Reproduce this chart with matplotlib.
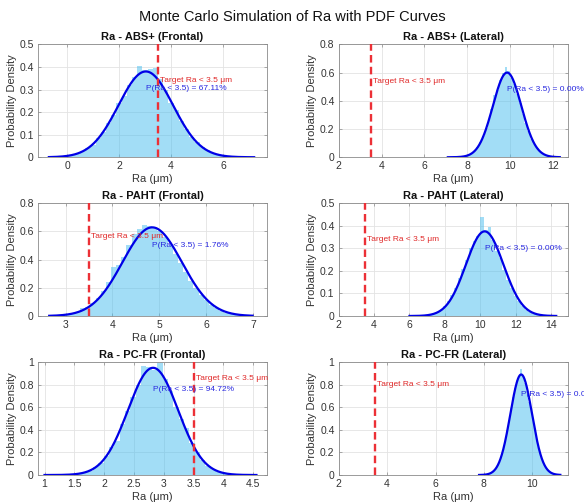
import numpy as np
import matplotlib
matplotlib.use("Agg")
import matplotlib.pyplot as plt

plt.rcParams['font.family'] = ['Liberation Sans', 'DejaVu Sans']

titles = ["Ra - ABS+ (Frontal)", "Ra - ABS+ (Lateral)",
          "Ra - PAHT (Frontal)", "Ra - PAHT (Lateral)",
          "Ra - PC-FR (Frontal)", "Ra - PC-FR (Lateral)"]
prob_labels = ["P(Ra < 3.5) = 67.11%", "P(Ra < 3.5) = 0.00%",
               "P(Ra < 3.5) = 1.76%", "P(Ra < 3.5) = 0.00%",
               "P(Ra < 3.5) = 94.72%", "P(Ra < 3.5) = 0.00%"]
target = 3.5
means = [3.03, 9.87, 4.85, 10.25, 2.82, 9.54]
stds = [1.05, 0.665, 0.635, 1.064, 0.42, 0.448]
sample_ranges = [(-0.7, 7.3), (7.1, 12.4), (2.65, 7.05), (6.0, 14.4), (1.0, 4.6), (7.8, 11.2)]

hist_abs_f = [0.001, 0.002, 0.003, 0.006, 0.010, 0.016, 0.026, 0.040, 0.055, 0.085,
              0.110, 0.150, 0.185, 0.240, 0.270, 0.320, 0.355, 0.405, 0.385, 0.390,
              0.395, 0.345, 0.300, 0.240, 0.210, 0.160, 0.125, 0.090, 0.068, 0.045,
              0.031, 0.019, 0.012, 0.007, 0.004, 0.002, 0.001, 0.0006, 0.0003, 0.0001]
hist_abs_l = [0.000, 0.0004, 0.0008, 0.0016, 0.003, 0.006, 0.010, 0.017, 0.029, 0.047,
              0.072, 0.108, 0.152, 0.205, 0.270, 0.340, 0.440, 0.480, 0.545, 0.600,
              0.640, 0.610, 0.565, 0.520, 0.450, 0.385, 0.305, 0.245, 0.185, 0.130,
              0.092, 0.062, 0.040, 0.024, 0.014, 0.008, 0.0044, 0.0023, 0.0011, 0.0006]
hist_paht_f = [0.002, 0.004, 0.007, 0.011, 0.018, 0.028, 0.060, 0.065, 0.090, 0.130,
               0.180, 0.240, 0.350, 0.360, 0.420, 0.500, 0.580, 0.620, 0.645, 0.640,
               0.630, 0.600, 0.560, 0.500, 0.440, 0.375, 0.310, 0.250, 0.195, 0.150,
               0.110, 0.078, 0.054, 0.036, 0.024, 0.015, 0.009, 0.0055, 0.0032, 0.0018]
hist_paht_l = [0.0002, 0.0005, 0.001, 0.002, 0.0035, 0.006, 0.011, 0.018, 0.028, 0.044,
               0.065, 0.092, 0.125, 0.170, 0.210, 0.250, 0.300, 0.330, 0.355, 0.440,
               0.380, 0.395, 0.335, 0.290, 0.255, 0.205, 0.160, 0.125, 0.090, 0.066,
               0.044, 0.028, 0.018, 0.011, 0.006, 0.0035, 0.002, 0.001, 0.0005, 0.0002]
hist_pcfr_f = [0.0001, 0.0003, 0.0007, 0.0015, 0.0033, 0.007, 0.013, 0.023, 0.040, 0.068,
               0.108, 0.166, 0.245, 0.300, 0.450, 0.570, 0.690, 0.800, 0.970, 0.960,
               0.930, 0.990, 0.850, 0.740, 0.600, 0.500, 0.420, 0.280, 0.200, 0.130,
               0.084, 0.051, 0.030, 0.017, 0.009, 0.0045, 0.0022, 0.001, 0.0005, 0.0002]
hist_pcfr_l = [0.0008, 0.0016, 0.003, 0.006, 0.010, 0.018, 0.030, 0.048, 0.075, 0.112,
               0.162, 0.226, 0.300, 0.395, 0.490, 0.595, 0.690, 0.775, 0.845, 0.880,
               0.940, 0.870, 0.815, 0.740, 0.645, 0.545, 0.440, 0.348, 0.262, 0.192,
               0.135, 0.092, 0.060, 0.038, 0.023, 0.013, 0.0076, 0.0042, 0.0022, 0.0011]
hists = [hist_abs_f, hist_abs_l, hist_paht_f, hist_paht_l, hist_pcfr_f, hist_pcfr_l]

xlims = [(-1.12, 7.69), (2, 12.7), (2.41, 7.3), (2, 14.94), (0.89, 4.73), (2, 11.46)]
ylims = [0.5, 0.8, 0.8, 0.5, 1.0, 1.0]
xticks = [[0, 2, 4, 6], [2, 4, 6, 8, 10, 12], [3, 4, 5, 6, 7],
          [2, 4, 6, 8, 10, 12, 14], [1, 1.5, 2, 2.5, 3, 3.5, 4, 4.5], [2, 4, 6, 8, 10]]
yticks = [[0, 0.1, 0.2, 0.3, 0.4, 0.5], [0, 0.2, 0.4, 0.6, 0.8], [0, 0.2, 0.4, 0.6, 0.8],
          [0, 0.1, 0.2, 0.3, 0.4, 0.5], [0, 0.2, 0.4, 0.6, 0.8, 1], [0, 0.2, 0.4, 0.6, 0.8, 1]]

fig = plt.figure(figsize=(5.84, 5.04), dpi=100)
lefts = [0.065, 0.580]
bottoms = [0.688, 0.373, 0.0575]
W, H = 0.392, 0.224

for i in range(6):
    r, c = divmod(i, 2)
    ax = fig.add_axes([lefts[c], bottoms[r], W, H])
    lo, hi = sample_ranges[i]
    h = np.array(hists[i])
    edges = np.linspace(lo, hi, len(h) + 1)
    ax.hist(edges[:-1], bins=edges, weights=h, color='#4dbeee', alpha=0.52,
            edgecolor='none', zorder=2)
    xs = np.linspace(lo, hi - (edges[1] - edges[0]) * 0.5, 300)
    pdf = np.exp(-0.5 * ((xs - means[i]) / stds[i]) ** 2) / (stds[i] * np.sqrt(2 * np.pi))
    ax.plot(xs, pdf, color='#0000e6', lw=1.6, zorder=4)
    ax.axvline(target, color='#ec3036', lw=1.7, ls=(0, (3.2, 1.8)), zorder=5)
    peak = 1 / (stds[i] * np.sqrt(2 * np.pi))
    ax.annotate("Target Ra < 3.5 μm", (target, 0.9 * peak), xytext=(1.5, 0),
                textcoords='offset points', color='#e02828', fontsize=6.0,
                ha='left', va='center', zorder=6, annotation_clip=False)
    ax.annotate(prob_labels[i], (means[i], 0.8 * peak), xytext=(0, 0),
                textcoords='offset points', color='#2828e0', fontsize=6.0,
                ha='left', va='center', zorder=6, annotation_clip=False)
    ax.set_xlim(*xlims[i])
    ax.set_ylim(0, ylims[i])
    ax.set_xticks(xticks[i])
    ax.set_yticks(yticks[i])
    ax.set_xticklabels([f"{v:g}" for v in xticks[i]])
    ax.set_yticklabels([f"{v:g}" for v in yticks[i]])
    ax.set_axisbelow(True)
    ax.grid(True, color='#e3e3e3', lw=0.6)
    for s in ax.spines.values():
        s.set_color('#8a8a8a')
        s.set_linewidth(0.6)
    ax.tick_params(direction='in', length=2.5, width=0.5, colors='#8a8a8a',
                   labelcolor='#333333', labelsize=7.5, top=True, right=True, pad=3)
    ax.set_title(titles[i], fontsize=8, fontweight='bold', pad=3, color='#111111')
    ax.set_xlabel("Ra (μm)", fontsize=8, color='#333333', labelpad=2)
    ax.set_ylabel("Probability Density", fontsize=8, color='#333333', labelpad=2)

fig.text(0.5, 0.966, "Monte Carlo Simulation of Ra with PDF Curves", ha='center',
         va='center', fontsize=10.5, color='#111111')

fig.savefig("out.png", dpi=100)
